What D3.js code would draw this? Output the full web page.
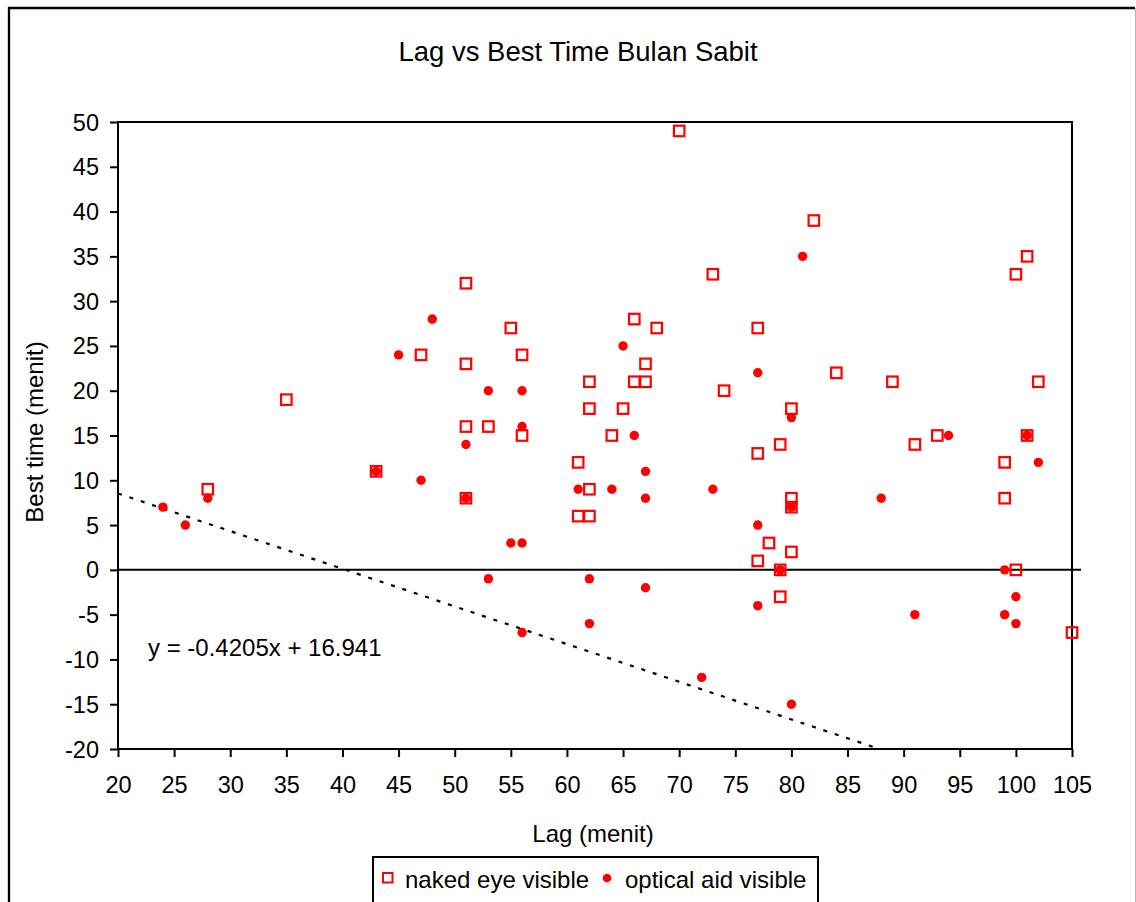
<!DOCTYPE html>
<html>
<head>
<meta charset="utf-8">
<script src="https://cdn.jsdelivr.net/npm/d3@7"></script>
<style>
  html, body { margin: 0; padding: 0; background: #fff; }
  svg { display: block; font-family: "Liberation Sans", Arial, sans-serif; }
</style>
</head>
<body>
<svg id="chart" width="1136" height="902"></svg>
<script>
// ---------------- data ----------------
const title = "Lag vs Best Time Bulan Sabit";
const xLabel = "Lag (menit)";
const yLabel = "Best time (menit)";
const seriesNames = ["naked eye visible", "optical aid visible"];

// naked eye visible: [lag, best time]
const nakedEye = [
  [28, 9], [35, 19], [43, 11], [47, 24], [51, 32], [51, 23], [51, 16], [51, 8],
  [53, 16], [55, 27], [56, 24], [56, 15], [61, 12], [61, 6], [62, 21], [62, 18],
  [62, 9], [62, 6], [64, 15], [65, 18], [66, 28], [66, 21], [67, 23], [67, 21],
  [68, 27], [70, 49], [73, 33], [74, 20], [77, 27], [77, 13], [77, 1], [78, 3],
  [79, 14], [79, 0], [79, -3], [80, 18], [80, 8], [80, 7], [80, 2], [82, 39],
  [84, 22], [89, 21], [91, 14], [93, 15], [99, 12], [99, 8], [100, 33], [100, 0],
  [101, 35], [101, 15], [102, 21], [105, -7]
];

// optical aid visible: [lag, best time]
const opticalAid = [
  [24, 7], [26, 5], [28, 8], [43, 11], [45, 24], [47, 10], [48, 28], [51, 14],
  [51, 8], [53, 20], [53, -1], [55, 3], [56, 20], [56, 16], [56, 3], [56, -7],
  [61, 9], [62, -1], [62, -6], [64, 9], [65, 25], [66, 15], [67, 11], [67, 8],
  [67, -2], [72, -12], [73, 9], [77, 22], [77, 5], [77, -4], [79, 0], [80, 17],
  [80, 7], [80, -15], [81, 35], [88, 8], [91, -5], [94, 15], [99, 0], [99, -5],
  [100, -3], [100, -6], [101, 15], [102, 12]
];

// linear trend line (as printed on chart)
const trendSlope = -0.4205;
const trendIntercept = 16.941;
const trendLabel = "y = -0.4205x + 16.941";

const xTicks = d3.range(20, 106, 5);   // 20 .. 105
const yTicks = d3.range(-20, 51, 5);   // -20 .. 50
const xDomain = [20, 105];
const yDomain = [-20, 50];

// ---------------- layout ----------------
const svg = d3.select("#chart");
const plot = { left: 118, top: 122, right: 1072, bottom: 749 };
const red = "#ff0000";
const fs = 24;
const tfs = 23.5;

const x = d3.scaleLinear().domain(xDomain).range([plot.left, plot.right]);
const y = d3.scaleLinear().domain(yDomain).range([plot.bottom, plot.top]);

// chart area frame
svg.append("path")
  .attr("d", "M9,903 V8 H1135")
  .attr("fill", "none").attr("stroke", "#000").attr("stroke-width", 2.3);
svg.append("line")
  .attr("x1", 1135.5).attr("x2", 1135.5).attr("y1", 8).attr("y2", 902)
  .attr("stroke", "#b4b4b4").attr("stroke-width", 1);

// title
svg.append("text")
  .attr("x", 578).attr("y", 61)
  .attr("text-anchor", "middle")
  .attr("font-size", 27.5)
  .text(title);

// clip for trend line
svg.append("clipPath").attr("id", "clip")
  .append("rect")
  .attr("x", plot.left).attr("y", plot.top)
  .attr("width", plot.right - plot.left).attr("height", plot.bottom - plot.top);

// plot area border
svg.append("rect")
  .attr("x", plot.left).attr("y", plot.top)
  .attr("width", plot.right - plot.left).attr("height", plot.bottom - plot.top)
  .attr("fill", "none").attr("stroke", "#000").attr("stroke-width", 2);

const fmt = d => String(d);

// x axis (bottom)
const xAxis = d3.axisBottom(x).tickValues(xTicks).tickFormat(fmt)
  .tickSize(8).tickSizeOuter(0).tickPadding(0);
const gx = svg.append("g").attr("transform", `translate(0,${plot.bottom})`).call(xAxis);
gx.select(".domain").remove();
gx.selectAll(".tick line").attr("stroke", "#000").attr("stroke-width", 2);
gx.selectAll(".tick text")
  .attr("y", 44).attr("dy", 0)
  .attr("font-size", tfs).attr("font-family", "Liberation Sans, Arial, sans-serif")
  .attr("fill", "#000");

// y axis (left)
const yAxis = d3.axisLeft(y).tickValues(yTicks).tickFormat(fmt)
  .tickSize(8).tickSizeOuter(0).tickPadding(11);
const gy = svg.append("g").attr("transform", `translate(${plot.left},0)`).call(yAxis);
gy.select(".domain").remove();
gy.selectAll(".tick line").attr("stroke", "#000").attr("stroke-width", 2);
gy.selectAll(".tick text")
  .attr("dy", "0.34em")
  .attr("font-size", tfs).attr("font-family", "Liberation Sans, Arial, sans-serif")
  .attr("fill", "#000");

// zero line
svg.append("line")
  .attr("x1", plot.left).attr("x2", plot.right + 9)
  .attr("y1", y(0)).attr("y2", y(0))
  .attr("stroke", "#000").attr("stroke-width", 2);

// axis titles
svg.append("text")
  .attr("x", 593).attr("y", 842)
  .attr("text-anchor", "middle").attr("font-size", fs)
  .text(xLabel);
svg.append("text")
  .attr("transform", `translate(43,432) rotate(-90)`)
  .attr("text-anchor", "middle").attr("font-size", fs)
  .text(yLabel);

// trend line
const tx0 = xDomain[0];
const tx1 = (yDomain[0] - trendIntercept) / trendSlope;
svg.append("line")
  .attr("clip-path", "url(#clip)")
  .attr("x1", x(tx0)).attr("y1", y(trendSlope * tx0 + trendIntercept))
  .attr("x2", x(tx1)).attr("y2", y(trendSlope * tx1 + trendIntercept))
  .attr("stroke", "#000").attr("stroke-width", 2.2)
  .attr("stroke-dasharray", "4,8");

// series: naked eye (open squares)
const sq = 10.5;
svg.append("g").selectAll("rect").data(nakedEye).join("rect")
  .attr("x", d => x(d[0]) - sq / 2)
  .attr("y", d => y(d[1]) - sq / 2)
  .attr("width", sq).attr("height", sq)
  .attr("fill", "none").attr("stroke", red).attr("stroke-width", 2.2);

// series: optical aid (filled dots)
svg.append("g").selectAll("circle").data(opticalAid).join("circle")
  .attr("cx", d => x(d[0]))
  .attr("cy", d => y(d[1]))
  .attr("r", 4.7)
  .attr("fill", red);

// equation label
svg.append("text")
  .attr("x", 148).attr("y", 656)
  .attr("font-size", fs)
  .text(trendLabel);

// legend
const lg = svg.append("g");
lg.append("rect")
  .attr("x", 373).attr("y", 857).attr("width", 445).attr("height", 70)
  .attr("fill", "#fff").attr("stroke", "#000").attr("stroke-width", 2);
lg.append("rect")
  .attr("x", 383).attr("y", 873).attr("width", 9.5).attr("height", 9.5)
  .attr("fill", "none").attr("stroke", red).attr("stroke-width", 2);
lg.append("text").attr("x", 405).attr("y", 888).attr("font-size", fs).text(seriesNames[0]);
lg.append("circle").attr("cx", 607).attr("cy", 878).attr("r", 4.3).attr("fill", red);
lg.append("text").attr("x", 625).attr("y", 888).attr("font-size", fs).text(seriesNames[1]);
</script>
</body>
</html>
